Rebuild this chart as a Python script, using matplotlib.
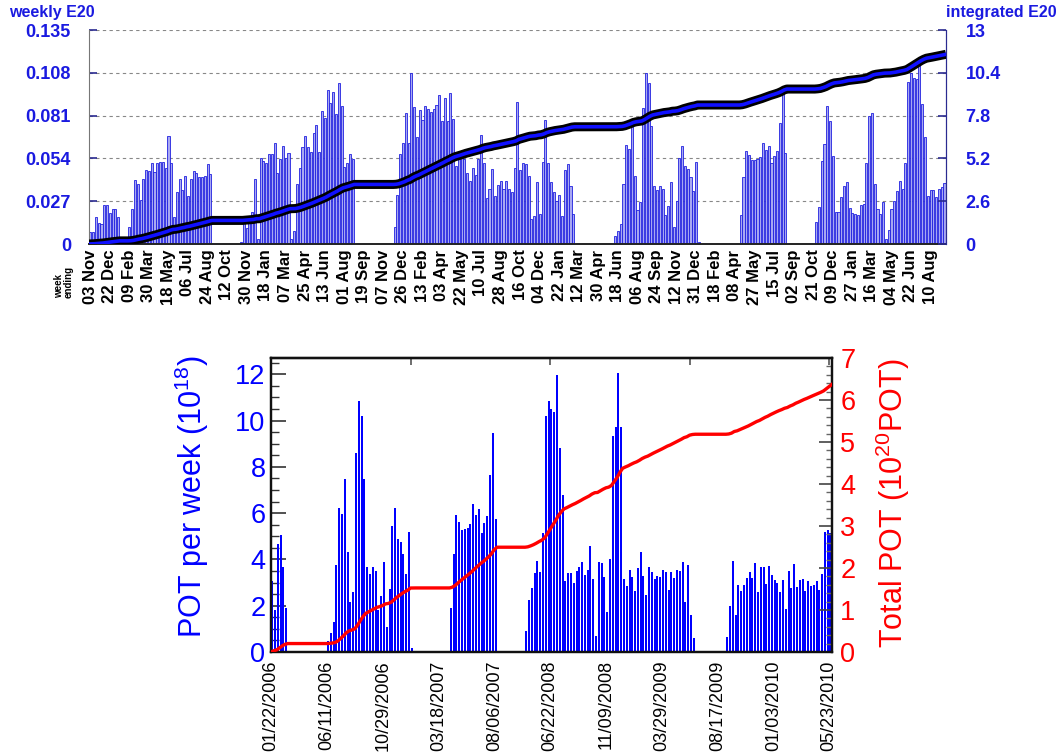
import numpy as np
import matplotlib.pyplot as plt
from matplotlib.ticker import MultipleLocator

plt.rcParams['font.family'] = ['Liberation Sans', 'DejaVu Sans']
plt.rcParams['mathtext.fontset'] = 'custom'
plt.rcParams['mathtext.rm'] = 'Liberation Sans'

# ---------------- upper plot: weekly E20 POT, one bin per week ----------------
top_nweeks = 307
top_runs = [
    (0, [0.0078, 0.0078, 0.017, 0.0134, 0.0126, 0.0248, 0.0248, 0.0193, 0.022, 0.022, 0.0172]),
    (14, [0.011, 0.022, 0.0405, 0.0376, 0.028, 0.041, 0.0466, 0.046, 0.051, 0.0456,
          0.0514, 0.052, 0.052, 0.048, 0.068, 0.051, 0.0168, 0.0325, 0.041, 0.034,
          0.043, 0.030, 0.041, 0.046, 0.045, 0.042, 0.042, 0.043, 0.0506, 0.044]),
    (54, [0.0015, 0.014, 0.010, 0.016, 0.020, 0.041, 0.003, 0.054, 0.0525, 0.051,
          0.0565, 0.0565, 0.0636, 0.0447, 0.0535, 0.062, 0.054, 0.0575, 0.003, 0.0084,
          0.038, 0.048, 0.0615, 0.068, 0.0615, 0.058, 0.070, 0.075, 0.058, 0.084,
          0.0795, 0.097, 0.089, 0.096, 0.082, 0.1015, 0.087, 0.0485, 0.051, 0.057, 0.0535]),
    (109, [0.0105, 0.031, 0.057, 0.0636, 0.0825, 0.0636, 0.108, 0.0865, 0.0674, 0.0846,
           0.078, 0.087, 0.085, 0.083, 0.085, 0.0875, 0.094, 0.0777, 0.092, 0.0777,
           0.095, 0.0787, 0.0493, 0.054, 0.058, 0.0535, 0.045, 0.0397, 0.048, 0.0435,
           0.0535, 0.069, 0.051, 0.029, 0.035, 0.047, 0.030, 0.037, 0.040, 0.0346,
           0.040, 0.0346, 0.033, 0.048, 0.0896, 0.0468, 0.0514, 0.0504, 0.043, 0.016,
           0.0178, 0.0388, 0.0189, 0.052, 0.078, 0.051, 0.0388, 0.033, 0.0273, 0.031,
           0.0178, 0.0468, 0.0504, 0.0367, 0.0189]),
    (188, [0.0048, 0.0084, 0.0126, 0.0376, 0.0623, 0.0598, 0.075, 0.0426, 0.0216, 0.0262,
           0.0859, 0.108, 0.1018, 0.0745, 0.0367, 0.0342, 0.0363, 0.0346, 0.0183, 0.024,
           0.0388, 0.011, 0.0273, 0.0544, 0.062, 0.049, 0.047, 0.042, 0.0336, 0.052, 0.0015]),
    (233, [0.0183, 0.0424, 0.0588, 0.056, 0.0529, 0.0529, 0.0535, 0.055, 0.0636, 0.0594,
           0.062, 0.0514, 0.0556, 0.0584, 0.0766, 0.0945, 0.0573]),
    (260, [0.0141, 0.0231, 0.0525, 0.063, 0.0871, 0.0777, 0.0556, 0.020, 0.0204, 0.0294,
           0.0367, 0.0393, 0.0225, 0.0193, 0.0189, 0.0183, 0.0248, 0.0252, 0.051, 0.0808,
           0.0825, 0.0376, 0.022, 0.0187, 0.0262, 0.0031, 0.0088, 0.022, 0.0273, 0.0336,
           0.0395, 0.0346, 0.051, 0.1022, 0.1077, 0.105, 0.1039, 0.1127, 0.0882, 0.0678,
           0.030, 0.034, 0.0342, 0.0294, 0.0346, 0.0357, 0.0384]),
]
top_labels = ['03 Nov', '22 Dec', '09 Feb', '30 Mar', '18 May', '06 Jul', '24 Aug', '12 Oct',
              '30 Nov', '18 Jan', '07 Mar', '25 Apr', '13 Jun', '01 Aug', '19 Sep', '07 Nov',
              '26 Dec', '13 Feb', '03 Apr', '22 May', '10 Jul', '28 Aug', '16 Oct', '04 Dec',
              '22 Jan', '12 Mar', '30 Apr', '18 Jun', '06 Aug', '24 Sep', '12 Nov', '31 Dec',
              '18 Feb', '08 Apr', '27 May', '15 Jul', '02 Sep', '21 Oct', '09 Dec', '27 Jan',
              '16 Mar', '04 May', '22 Jun', '10 Aug']
top_left_ticks = [0, 0.027, 0.054, 0.081, 0.108, 0.135]
top_right_ticks = [0, 2.6, 5.2, 7.8, 10.4, 13]

# ---------------- lower plot: POT per week (1E18) ----------------
bot_nbins = 201
bot_runs = [
    (0, [3.06, 1.80, 4.66, 5.05, 3.66, 1.90]),
    (20, [0.46, 0.84, 1.28, 3.75, 6.21, 5.95, 7.47, 4.31, 2.15, 2.58,
          8.59, 10.84, 10.19, 7.47, 3.66, 3.39, 3.66, 3.50, 1.80, 2.41,
          3.88, 1.07, 2.71, 5.44, 6.21, 4.90, 4.74, 4.22, 3.36, 5.18, 0.17]),
    (64, [1.90, 4.22, 5.91, 5.61, 5.26, 5.31, 5.35, 5.52, 6.40, 5.91,
          6.17, 5.13, 5.57, 5.87, 7.64, 9.46, 5.74]),
    (91, [0.89, 2.23, 2.77, 3.41, 3.92, 3.45, 5.13, 10.19, 10.84, 10.5,
          10.38, 11.97, 8.81, 6.78, 3.06, 3.41, 3.41, 2.98, 3.50, 3.66,
          3.88, 3.32, 3.53, 4.57, 3.15, 0.68, 3.88, 3.84, 3.23, 1.72,
          4.01, 9.33, 9.72, 12.05, 9.72, 3.15, 2.84, 3.53, 3.23, 2.62,
          3.61, 4.31, 3.27, 2.45, 3.66, 3.45, 3.15, 3.27, 3.23, 3.53,
          3.45, 2.67, 3.45, 3.19, 3.53, 3.50, 3.88, 2.15, 3.75, 1.60, 0.60]),
    (163, [0.65, 1.99, 3.92, 1.60, 2.89, 2.62, 2.89, 3.19, 3.45, 3.19,
           3.84, 2.58, 3.66, 3.66, 2.93, 3.70, 3.32, 3.10, 2.98, 2.58,
           3.10, 1.84, 3.50, 2.77, 3.79, 2.81, 3.10, 3.15, 2.62, 3.06,
           2.84, 2.89, 3.06, 2.67, 3.36, 5.18, 5.26, 5.13]),
]
bot_labels = ['01/22/2006', '06/11/2006', '10/29/2006', '03/18/2007', '08/06/2007',
              '06/22/2008', '11/09/2008', '03/29/2009', '08/17/2009', '01/03/2010',
              '05/23/2010']


def fill_bins(nbins, runs):
    vals = np.zeros(nbins)
    for start, v in runs:
        vals[start:start + len(v)] = v
    return vals


weekly = fill_bins(top_nweeks, top_runs)
pot = fill_bins(bot_nbins, bot_runs)

W, H = 1061, 752
fig = plt.figure(figsize=(W / 100, H / 100), dpi=100)


def box(l, t, r, b):
    return [l / W, 1 - b / H, (r - l) / W, (b - t) / H]


TOPBLUE = '#1a1ae0'
NAVY = '#2a2a90'

# ---- upper ----
ax1 = fig.add_axes(box(89, 30, 946, 244))
wk = np.arange(top_nweeks)
ax1.bar(wk + 0.1, weekly, width=0.75, align='edge', color='#a8a8f2',
        edgecolor='#2020e0', linewidth=0.6, zorder=2)
ax1.set_xlim(0, top_nweeks)
ax1.set_ylim(0, 0.135)
ax1.set_yticks(top_left_ticks, ['0', '0.027', '0.054', '0.081', '0.108', '0.135'])
ax1.grid(axis='y', color='#888888', linestyle=(0, (3, 3)), linewidth=0.8, zorder=0)
ax1.tick_params(axis='y', direction='in', length=6, width=1.2, color=NAVY,
                labelcolor=TOPBLUE, labelsize=13, pad=13)
ax1.set_xticks(7 * np.arange(len(top_labels)) + 0.4, top_labels, rotation=90)
ax1.tick_params(axis='x', length=0, labelsize=12, pad=4)
for lbl in ax1.get_xticklabels() + ax1.get_yticklabels():
    lbl.set_fontweight('bold')
ax1.spines['top'].set_visible(False)
ax1.spines['left'].set_color('#777777')
ax1.spines['bottom'].set_color('#222222')
ax1.spines['bottom'].set_linewidth(1.4)
ax1.spines['right'].set_color(NAVY)

ax1r = ax1.twinx()
ax1r.set_ylim(0, 13)
ax1r.set_yticks(top_right_ticks, ['0', '2.6', '5.2', '7.8', '10.4', '13'])
ax1r.tick_params(axis='y', direction='in', length=6, width=1.2, color=NAVY,
                 labelcolor=TOPBLUE, labelsize=13, pad=14)
for lbl in ax1r.get_yticklabels():
    lbl.set_fontweight('bold')
for s in ['top', 'left', 'bottom']:
    ax1r.spines[s].set_visible(False)
ax1r.spines['right'].set_color(NAVY)
integ = np.concatenate([[0], np.cumsum(weekly)])
xint = np.arange(top_nweeks + 1)
ax1r.plot(xint, integ, color='black', lw=6.5, solid_capstyle='butt', zorder=3)
ax1r.plot(xint, integ, color='#1010ff', lw=2.6, zorder=4)

fig.text(9 / W, 1 - 13 / H, 'weekly E20', color=TOPBLUE, fontsize=11.5,
         fontweight='bold', ha='left', va='center')
fig.text(1057 / W, 1 - 13 / H, 'integrated E20', color=TOPBLUE, fontsize=11.5,
         fontweight='bold', ha='right', va='center')
fig.text(64 / W, 1 - 298 / H, 'week\nending', fontsize=7, fontweight='bold',
         rotation=90, ha='center', va='bottom', multialignment='left', linespacing=1.0)

# ---- lower ----
ax2 = fig.add_axes(box(271, 358, 832, 652))
bins = np.arange(bot_nbins)
ax2.bar(bins + 0.1, pot, width=0.72, align='edge', color='#0000ff', zorder=2)
ax2.set_xlim(0, bot_nbins)
ax2.set_ylim(0, 12.7)
ax2.yaxis.set_major_locator(MultipleLocator(2))
ax2.yaxis.set_minor_locator(MultipleLocator(0.5))
ax2.tick_params(axis='y', which='major', direction='in', length=11, width=1.2,
                color='#333333', labelcolor='#0000ff', labelsize=19.5, pad=4)
ax2.tick_params(axis='y', which='minor', direction='in', length=5.5, width=1.0,
                color='#333333')
ax2.set_xticks(20 * np.arange(len(bot_labels)), bot_labels, rotation=90)
ax2.tick_params(axis='x', length=0, labelsize=13, pad=6)
for s in ax2.spines.values():
    s.set_linewidth(1.6)
    s.set_color('#111111')

sec = ax2.secondary_xaxis('top')
sec.set_xticks([0, 50, 100, 150, 200])
sec.tick_params(direction='in', length=5, width=1.2, color='#555555', labeltop=False)
sec.spines['top'].set_linewidth(1.6)

ax2r = ax2.twinx()
ax2r.set_ylim(0, 7)
ax2r.yaxis.set_major_locator(MultipleLocator(1))
ax2r.yaxis.set_minor_locator(MultipleLocator(0.2))
ax2r.tick_params(axis='y', which='major', direction='in', length=9.5, width=1.2,
                 color='#444444', labelcolor='#ff0000', labelsize=19.5, pad=6)
ax2r.tick_params(axis='y', which='minor', direction='in', length=4.5, width=1.0,
                 color='#666666')
for s in ax2r.spines.values():
    s.set_linewidth(1.6)
    s.set_color('#111111')
total = np.concatenate([[0], np.cumsum(pot) / 100.0])
ax2r.plot(np.arange(bot_nbins + 1), total, color='#ff0000', lw=2.4, zorder=3)

fig.text(192 / W, 1 - 497 / H, 'POT per week (10$^{18}$)', color='#0000ff',
         fontsize=22, rotation=90, ha='center', va='center')
fig.text(893 / W, 1 - 503 / H, 'Total POT (10$^{20}$POT)', color='#ff0000',
         fontsize=22, rotation=90, ha='center', va='center')

fig.savefig('out.png', dpi=100)
